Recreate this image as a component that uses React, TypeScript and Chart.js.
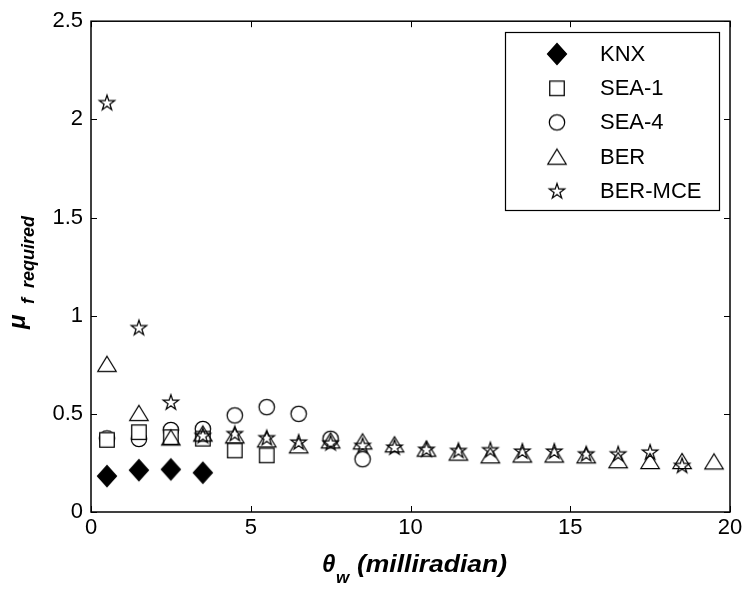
import React, { useEffect, useRef } from 'react';
import { Chart, registerables } from 'chart.js';
Chart.register(...registerables);

const seriesNames = ['KNX', 'SEA-1', 'SEA-4', 'BER', 'BER-MCE'];

const knxX = [0.5, 1.5, 2.5, 3.5];
const knxY = [0.183, 0.213, 0.217, 0.2];

const sea1X = [0.5, 1.5, 2.5, 3.5, 4.5, 5.5];
const sea1Y = [0.368, 0.407, 0.382, 0.374, 0.314, 0.289];

const sea4X = [0.5, 1.5, 2.5, 3.5, 4.5, 5.5, 6.5, 7.5, 8.5];
const sea4Y = [0.375, 0.372, 0.418, 0.423, 0.492, 0.534, 0.5, 0.373, 0.269];

const berX = [0.5, 1.5, 2.5, 3.5, 4.5, 5.5, 6.5, 7.5, 8.5, 9.5, 10.5, 11.5, 12.5, 13.5, 14.5, 15.5, 16.5, 17.5, 18.5, 19.5];
const berY = [0.755, 0.505, 0.38, 0.4, 0.39, 0.37, 0.34, 0.365, 0.36, 0.345, 0.323, 0.303, 0.289, 0.293, 0.293, 0.289, 0.264, 0.26, 0.26, 0.258];

const berMceX = [0.5, 1.5, 2.5, 3.5, 4.5, 5.5, 6.5, 7.5, 8.5, 9.5, 10.5, 11.5, 12.5, 13.5, 14.5, 15.5, 16.5, 17.5, 18.5];
const berMceY = [2.086, 0.94, 0.56, 0.39, 0.4, 0.379, 0.357, 0.353, 0.34, 0.331, 0.32, 0.314, 0.318, 0.311, 0.311, 0.297, 0.297, 0.306, 0.238];

const xTicks = [0, 5, 10, 15, 20];
const yTicks = [0, 0.5, 1, 1.5, 2, 2.5];
const yTickLabels = ['0', '0.5', '1', '1.5', '2', '2.5'];

const FONT = '"Liberation Sans", Arial, sans-serif';

type Kind = 'diamond' | 'square' | 'circle' | 'triangle' | 'star';

function makeMarker(kind: Kind): HTMLCanvasElement {
  const c = document.createElement('canvas');
  c.width = 26;
  c.height = 26;
  const g = c.getContext('2d')!;
  const m = 13;
  g.strokeStyle = '#000';
  g.lineWidth = 1.25;
  g.beginPath();
  if (kind === 'diamond') {
    g.moveTo(m, m - 10.5);
    g.lineTo(m + 9.5, m);
    g.lineTo(m, m + 10.5);
    g.lineTo(m - 9.5, m);
    g.closePath();
    g.fillStyle = '#000';
    g.fill();
    g.stroke();
  } else if (kind === 'square') {
    g.rect(m - 7.25, m - 7.25, 14.5, 14.5);
    g.fillStyle = '#fff';
    g.fill();
    g.stroke();
  } else if (kind === 'circle') {
    g.arc(m, m, 7.7, 0, Math.PI * 2);
    g.stroke();
  } else if (kind === 'triangle') {
    g.moveTo(m, m - 7.5);
    g.lineTo(m + 9.2, m + 7.5);
    g.lineTo(m - 9.2, m + 7.5);
    g.closePath();
    g.stroke();
  } else {
    const R = 8, r = 8 * 0.382;
    for (let i = 0; i < 10; i++) {
      const a = -Math.PI / 2 + (i * Math.PI) / 5;
      const rr = i % 2 === 0 ? R : r;
      const px = m + rr * Math.cos(a);
      const py = m + 0.7 + rr * Math.sin(a);
      if (i === 0) g.moveTo(px, py);
      else g.lineTo(px, py);
    }
    g.closePath();
    g.stroke();
  }
  return c;
}

function toPts(xs: number[], ys: number[]) {
  return xs.map((x, i) => ({ x, y: ys[i] }));
}

export default function App() {
  const ref = useRef<HTMLCanvasElement>(null);

  useEffect(() => {
    const kinds: Kind[] = ['diamond', 'square', 'circle', 'triangle', 'star'];
    const imgs = kinds.map(makeMarker);
    const datas = [
      toPts(knxX, knxY),
      toPts(sea1X, sea1Y),
      toPts(sea4X, sea4Y),
      toPts(berX, berY),
      toPts(berMceX, berMceY),
    ];
    const orders = [0, 3, 4, 2, 1];

    const decor = {
      id: 'decor',
      afterDraw(chart: any) {
        const ctx = chart.ctx as CanvasRenderingContext2D;
        const a = chart.chartArea;
        const xs = chart.scales.x;
        const ys = chart.scales.y;
        ctx.save();
        // frame
        ctx.strokeStyle = '#000';
        ctx.lineWidth = 1.5;
        ctx.strokeRect(a.left, a.top, a.right - a.left, a.bottom - a.top);
        ctx.lineWidth = 1;
        ctx.beginPath();
        const tl = 6;
        xTicks.forEach((v) => {
          const p = Math.round(xs.getPixelForValue(v)) + 0.5;
          ctx.moveTo(p, a.bottom);
          ctx.lineTo(p, a.bottom - tl);
          ctx.moveTo(p, a.top);
          ctx.lineTo(p, a.top + tl);
        });
        yTicks.forEach((v) => {
          const p = Math.round(ys.getPixelForValue(v)) + 0.5;
          ctx.moveTo(a.left, p);
          ctx.lineTo(a.left + tl, p);
          ctx.moveTo(a.right, p);
          ctx.lineTo(a.right - tl, p);
        });
        ctx.stroke();

        // legend
        const lx = 505, ly = 32, lw = 214, lh = 178;
        ctx.fillStyle = '#fff';
        ctx.fillRect(lx, ly, lw, lh);
        ctx.lineWidth = 1.2;
        ctx.strokeRect(lx + 0.5, ly + 0.5, lw, lh);
        ctx.fillStyle = '#000';
        ctx.font = `22px ${FONT}`;
        ctx.textBaseline = 'middle';
        ctx.textAlign = 'left';
        seriesNames.forEach((name, i) => {
          const cy = 54 + i * 34.2;
          ctx.drawImage(imgs[i], 557 - 13, cy - 13);
          ctx.fillText(name, 600, cy + 1);
        });

        // x title
        ctx.textBaseline = 'alphabetic';
        ctx.font = `bold italic 24px ${FONT}`;
        ctx.fillText('\u03B8', 322, 572);
        ctx.font = `bold italic 17px ${FONT}`;
        ctx.fillText('w', 336, 583);
        ctx.font = `bold italic 24px ${FONT}`;
        const t = '(milliradian)';
        const w = ctx.measureText(t).width;
        ctx.save();
        ctx.translate(357, 572);
        ctx.scale(150 / w, 1);
        ctx.fillText(t, 0, 0);
        ctx.restore();

        // y title
        ctx.save();
        ctx.translate(25, 329);
        ctx.rotate(-Math.PI / 2);
        ctx.font = `bold italic 24px ${FONT}`;
        ctx.fillText('\u03BC', 0, 0);
        ctx.font = `bold italic 18px ${FONT}`;
        ctx.fillText('f', 25, 9);
        ctx.fillText('required', 41, 9);
        ctx.restore();

        ctx.restore();
      },
    };

    const chart = new Chart(ref.current!, {
      type: 'scatter',
      data: {
        datasets: seriesNames.map((name, i) => ({
          label: name,
          data: datas[i],
          order: orders[i],
          pointStyle: imgs[i] as any,
          pointRadius: 10,
          pointHoverRadius: 10,
          showLine: false,
        })),
      },
      options: {
        animation: false,
        responsive: false,
        maintainAspectRatio: false,
        events: [],
        layout: { padding: { top: 19, right: 17, left: 0, bottom: 0 } },
        plugins: {
          legend: { display: false },
          tooltip: { enabled: false },
          title: { display: false },
        },
        scales: {
          x: {
            type: 'linear',
            min: 0,
            max: 20,
            afterBuildTicks: (s: any) => {
              s.ticks = xTicks.map((v) => ({ value: v }));
            },
            ticks: {
              color: '#000',
              font: { family: FONT, size: 22 },
              padding: 3,
              maxRotation: 0,
              autoSkip: false,
              callback: (v: any) => String(v),
            },
            grid: { display: false, drawTicks: false },
            border: { display: false },
            afterFit: (s: any) => {
              s.height = 80;
            },
          },
          y: {
            type: 'linear',
            min: 0,
            max: 2.5,
            afterBuildTicks: (s: any) => {
              s.ticks = yTicks.map((v) => ({ value: v }));
            },
            ticks: {
              color: '#000',
              font: { family: FONT, size: 22 },
              padding: 8,
              autoSkip: false,
              callback: (v: any) => {
                const k = yTicks.indexOf(Number(v));
                return k >= 0 ? yTickLabels[k] : String(v);
              },
            },
            grid: { display: false, drawTicks: false },
            border: { display: false },
            afterFit: (s: any) => {
              s.width = 91;
            },
          },
        },
      },
      plugins: [decor],
    });
    return () => chart.destroy();
  }, []);

  return (
    <div style={{ position: 'absolute', left: 0, top: 0, width: 747, height: 592, background: '#fff' }}>
      <canvas ref={ref} width={747} height={592} style={{ display: 'block' }} />
    </div>
  );
}
